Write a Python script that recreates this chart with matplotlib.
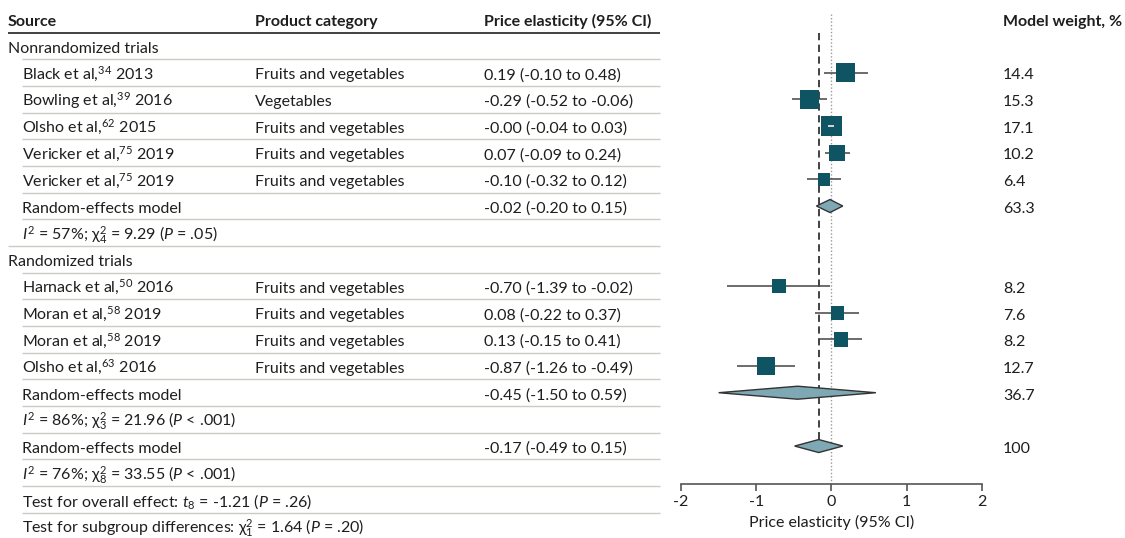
import matplotlib
matplotlib.use("Agg")
import matplotlib.pyplot as plt
from matplotlib.patches import Polygon
import numpy as np

# ---------------- data ----------------
headers = ["Source", "Product category", "Price elasticity (95% CI)", "Model weight, %"]

group_labels = ["Nonrandomized trials", "Randomized trials"]

study_sources = [
    "Black et al,$^{34}$ 2013",
    "Bowling et al,$^{39}$ 2016",
    "Olsho et al,$^{62}$ 2015",
    "Vericker et al,$^{75}$ 2019",
    "Vericker et al,$^{75}$ 2019",
    "Harnack et al,$^{50}$ 2016",
    "Moran et al,$^{58}$ 2019",
    "Moran et al,$^{58}$ 2019",
    "Olsho et al,$^{63}$ 2016",
]
study_groups = [0, 0, 0, 0, 0, 1, 1, 1, 1]
study_category = [
    "Fruits and vegetables", "Vegetables", "Fruits and vegetables",
    "Fruits and vegetables", "Fruits and vegetables",
    "Fruits and vegetables", "Fruits and vegetables",
    "Fruits and vegetables", "Fruits and vegetables",
]
study_est = [0.19, -0.29, -0.001, 0.07, -0.10, -0.70, 0.08, 0.13, -0.87]
study_lo = [-0.10, -0.52, -0.04, -0.09, -0.32, -1.39, -0.22, -0.15, -1.26]
study_hi = [0.48, -0.06, 0.03, 0.24, 0.12, -0.02, 0.37, 0.41, -0.49]
study_weight = [14.4, 15.3, 17.1, 10.2, 6.4, 8.2, 7.6, 8.2, 12.7]

# pooled estimates: nonrandomized, randomized, overall
pooled_est = [-0.02, -0.45, -0.17]
pooled_lo = [-0.20, -1.50, -0.49]
pooled_hi = [0.15, 0.59, 0.15]
pooled_weight = [63.3, 36.7, 100]
heterogeneity = [
    r"$I^2$ = 57%; $\mathrm{\chi}^2_4$ = 9.29 ($P$ = .05)",
    r"$I^2$ = 86%; $\mathrm{\chi}^2_3$ = 21.96 ($P$ < .001)",
    r"$I^2$ = 76%; $\mathrm{\chi}^2_8$ = 33.55 ($P$ < .001)",
]
tests = [
    r"Test for overall effect: $t_8$ = -1.21 ($P$ = .26)",
    r"Test for subgroup differences: $\mathrm{\chi}^2_1$ = 1.64 ($P$ = .20)",
]
xticks = [-2, -1, 0, 1, 2]
xlabel = "Price elasticity (95% CI)"

# ---------------- style ----------------
FONT = "Lato"
plt.rcParams["font.family"] = [FONT, "DejaVu Sans"]
plt.rcParams["mathtext.fontset"] = "custom"
plt.rcParams["mathtext.rm"] = FONT
plt.rcParams["mathtext.it"] = FONT + ":italic"
plt.rcParams["mathtext.bf"] = FONT + ":bold"
plt.rcParams["mathtext.sf"] = FONT
plt.rcParams["axes.unicode_minus"] = False
FS = 11.5
TXT = "#1e1e1e"
SQ = "#0f5462"
DIA = "#7fa8b5"
SEP = "#cbcbc5"

W, H = 1125, 538
fig = plt.figure(figsize=(W / 100, H / 100), dpi=100)

# row geometry (row units; row 0 = first group label)
ROW0_PX, ROW_PX = 46.0, 26.67
BASE = 6.8 / ROW_PX  # baseline offset below row centre
def px_to_row(p):
    return (p - ROW0_PX) / ROW_PX

tax = fig.add_axes([0, 0, 1, 1])
tax.set_xlim(0, W)
tax.set_ylim(px_to_row(H), px_to_row(0))
tax.axis("off")

def put(x, row, s, **kw):
    tax.text(x, row + BASE, s, fontsize=FS, color=TXT, va="baseline", ha="left", **kw)

AX_L, AX_R, AX_B = 681, 982, 484
fax = fig.add_axes([AX_L / W, (H - AX_B) / H, (AX_R - AX_L) / W, AX_B / H])
fax.set_xlim(-2, 2)
fax.set_ylim(px_to_row(AX_B), px_to_row(0))
fax.patch.set_alpha(0)
for s in ["top", "left", "right"]:
    fax.spines[s].set_visible(False)
fax.spines["bottom"].set_color("#555555")
fax.spines["bottom"].set_linewidth(1.2)
fax.set_yticks([])
fax.set_xticks(xticks)
fax.set_xticklabels([str(t) for t in xticks])
fax.tick_params(axis="x", direction="out", length=5, width=1.2, color="#555555",
                labelsize=FS, labelcolor=TXT, pad=3)
fax.set_xlabel(xlabel, fontsize=FS, color=TXT, labelpad=4)

# ---------------- build rows ----------------
X_GRP, X_SRC, X_CAT, X_CI, X_W = 8, 22, 255, 484, 1003
rows = []  # (kind, payload)
for g in range(2):
    rows.append(("group", g))
    for k in range(len(study_sources)):
        if study_groups[k] == g:
            rows.append(("study", k))
    rows.append(("pooled", g))
    rows.append(("het", g))
rows.append(("pooled", 2))
rows.append(("het", 2))
rows.append(("test", 0))
rows.append(("test", 1))

def ci_text(e, l, h):
    return f"{e:.2f} ({l:.2f} to {h:.2f})"

# header
for x, t in zip([X_GRP, X_CAT, X_CI, X_W], headers):
    put(x, -1, t, fontweight="bold")
tax.plot([X_GRP, 660], [-0.5, -0.5], color="#333333", lw=1.3, solid_capstyle="butt")

overall_row = None
for i, (kind, idx) in enumerate(rows):
    if kind == "group":
        put(X_GRP, i, group_labels[idx])
    elif kind == "study":
        put(X_SRC, i, study_sources[idx])
        put(X_CAT, i, study_category[idx])
        put(X_CI, i, ci_text(study_est[idx], study_lo[idx], study_hi[idx]))
        put(X_W, i, f"{study_weight[idx]:g}")
        side_px = 5.0 * np.sqrt(study_weight[idx])
        half_x = side_px / 2 / (AX_R - AX_L) * 4
        inside = (study_lo[idx] >= study_est[idx] - half_x) and (study_hi[idx] <= study_est[idx] + half_x)
        fax.hlines(i, study_lo[idx], study_hi[idx], color="#444444", lw=1.1, zorder=2)
        fax.scatter([study_est[idx]], [i], marker="s", s=(side_px * 0.72) ** 2,
                    color=SQ, edgecolors="none", zorder=3)
        if inside:
            fax.hlines(i, study_lo[idx], study_hi[idx], color="white", lw=1.1, zorder=4)
    elif kind == "pooled":
        put(X_SRC, i, "Random-effects model")
        put(X_CI, i, ci_text(pooled_est[idx], pooled_lo[idx], pooled_hi[idx]))
        put(X_W, i, f"{pooled_weight[idx]:g}")
        hh = 6.5 / ROW_PX
        poly = Polygon([[pooled_lo[idx], i], [pooled_est[idx], i - hh],
                        [pooled_hi[idx], i], [pooled_est[idx], i + hh]],
                       closed=True, facecolor=DIA, edgecolor="#333333", lw=1.0, zorder=5)
        fax.add_patch(poly)
        if idx == 2:
            overall_row = i
    elif kind == "het":
        put(X_SRC, i, heterogeneity[idx])
    elif kind == "test":
        put(X_SRC, i, tests[idx])

# row separators
for i in range(len(rows) - 1):
    x0 = X_GRP if rows[i + 1][0] == "group" else X_SRC
    tax.plot([x0, 660], [i + 0.5, i + 0.5], color=SEP, lw=1.0, solid_capstyle="butt")

# reference lines
fax.plot([0, 0], [px_to_row(14), px_to_row(AX_B)], color="#999999", lw=1.0,
         ls=(0, (1, 1.5)), zorder=1, clip_on=False)
fax.plot([pooled_est[2]] * 2, [-0.5, overall_row], color="#333333", lw=1.3,
         ls=(0, (4, 2.5)), zorder=1)

fig.savefig("out.png", dpi=100)
